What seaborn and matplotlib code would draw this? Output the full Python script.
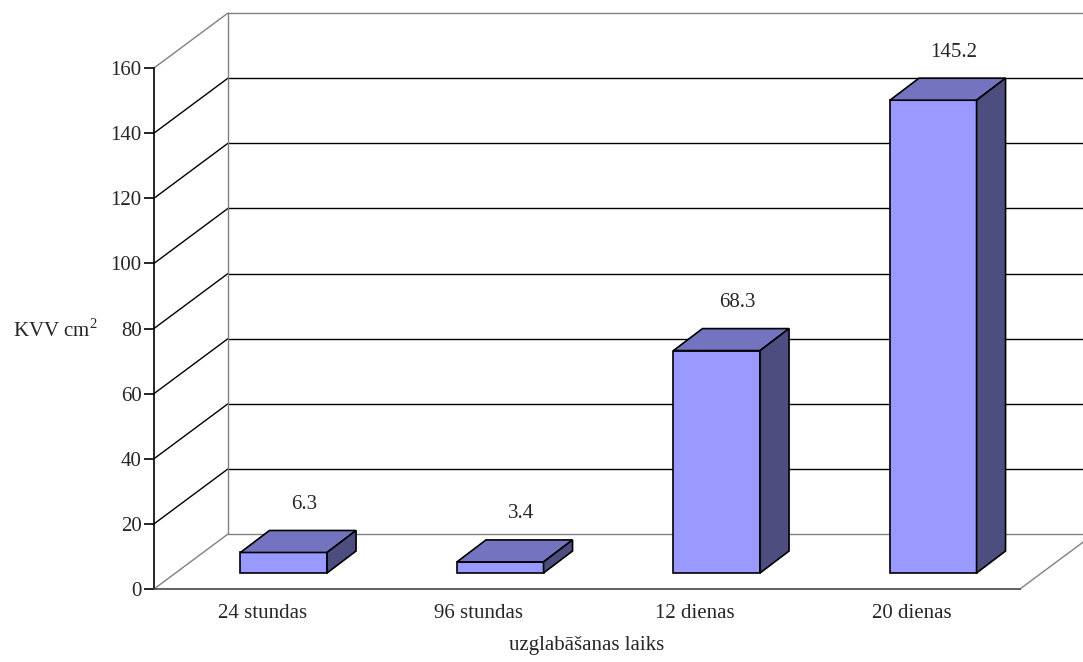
import matplotlib
matplotlib.use("Agg")
import matplotlib.pyplot as plt
from matplotlib.transforms import ScaledTranslation, blended_transform_factory
from matplotlib.patches import Polygon
from matplotlib.lines import Line2D
import seaborn as sns

# Storage time vs. KVV per cm2
categories = ["24 stundas", "96 stundas", "12 dienas", "20 dienas"]
values = [6.3, 3.4, 68.3, 145.2]
y_ticks = [0, 20, 40, 60, 80, 100, 120, 140, 160]

sns.set_style("white")
plt.rcParams["font.family"] = ["Liberation Serif", "DejaVu Serif"]
plt.rcParams["mathtext.fontset"] = "custom"
plt.rcParams["mathtext.rm"] = "Liberation Serif"

DPI = 100
fig = plt.figure(figsize=(10.83, 6.62), dpi=DPI)
ax = fig.add_axes([154 / 1083, 73 / 662, 866 / 1083, 521 / 662])

FRONT = "#9999FF"
TOP = "#7373BF"
SIDE = "#4D4D80"
GRAY = "#808080"

sns.barplot(x=categories, y=values, width=0.4, color=FRONT, saturation=1,
            edgecolor="black", linewidth=1.2, ax=ax, zorder=5)
ax.set_xlim(-0.5, 3.5)
ax.set_ylim(0, 160)
ax.set_yticks(y_ticks)

# depth of the plot box and of the bars, in inches
wall = ScaledTranslation(0.74, 0.55, fig.dpi_scale_trans)
bar_shift = ScaledTranslation(0.215, 0.16, fig.dpi_scale_trans)
bar_depth = (29, 22)  # pixels
wall_px = (74, 55)

to_fig = fig.transFigure.inverted()
axy = blended_transform_factory(ax.transAxes, ax.transData)

# back wall gridlines and left wall diagonals
for v in y_ticks:
    col = GRAY if v in (0, 160) else "black"
    ax.add_line(Line2D([0, 1.3], [v, v], transform=axy + wall, color=col,
                       lw=1.0, clip_on=False, zorder=1))
    p = axy.transform((0, v))
    q = (p[0] + wall_px[0], p[1] + wall_px[1])
    pts = to_fig.transform([p, q])
    ax.add_line(Line2D(pts[:, 0], pts[:, 1], transform=fig.transFigure,
                       color=col, lw=1.0, clip_on=False, zorder=1))

# back wall left edge
ax.add_line(Line2D([0, 0], [0, 160], transform=axy + wall, color=GRAY,
                   lw=1.0, clip_on=False, zorder=1))
# floor right edge
p = ax.transAxes.transform((1, 0))
q = (p[0] + wall_px[0], p[1] + wall_px[1])
pts = to_fig.transform([p, q])
ax.add_line(Line2D(pts[:, 0], pts[:, 1], transform=fig.transFigure,
                   color=GRAY, lw=1.0, clip_on=False, zorder=1))

# turn the flat bars into boxes
tbar = ax.transData + bar_shift
for patch, v in zip(list(ax.patches), values):
    patch.set_transform(tbar)
    x0, w, h = patch.get_x(), patch.get_width(), patch.get_height()
    a = tbar.transform((x0, h))
    b = tbar.transform((x0 + w, h))
    c = tbar.transform((x0 + w, 0))
    dx, dy = bar_depth
    top = [a, b, (b[0] + dx, b[1] + dy), (a[0] + dx, a[1] + dy)]
    side = [c, b, (b[0] + dx, b[1] + dy), (c[0] + dx, c[1] + dy)]
    for poly, col in ((top, TOP), (side, SIDE)):
        ax.add_patch(Polygon(to_fig.transform(poly), closed=True,
                             transform=fig.transFigure, facecolor=col,
                             edgecolor="black", lw=1.2, clip_on=False,
                             zorder=5))
    ax.annotate(f"{v}", xy=(x0 + w / 2, h), xytext=(42, 64),
                textcoords="offset pixels", ha="center", va="center",
                fontsize=15, zorder=6)

for s in ("top", "right"):
    ax.spines[s].set_visible(False)
ax.spines["left"].set_color("black")
ax.spines["left"].set_linewidth(1.2)
ax.spines["bottom"].set_color("#444444")
ax.spines["bottom"].set_linewidth(1.2)

ax.tick_params(axis="y", direction="out", length=7, width=1.2, color="black",
               labelsize=15, pad=2, left=True)
ax.tick_params(axis="x", length=0, labelsize=15, pad=11)

ax.set_ylabel("KVV cm$^2$", rotation=0, fontsize=15, ha="right", va="center")
ax.yaxis.set_label_coords(-0.065, 0.497)
ax.set_xlabel("uzglabāšanas laiks", fontsize=15, labelpad=9)

fig.savefig("out.png", dpi=DPI)
